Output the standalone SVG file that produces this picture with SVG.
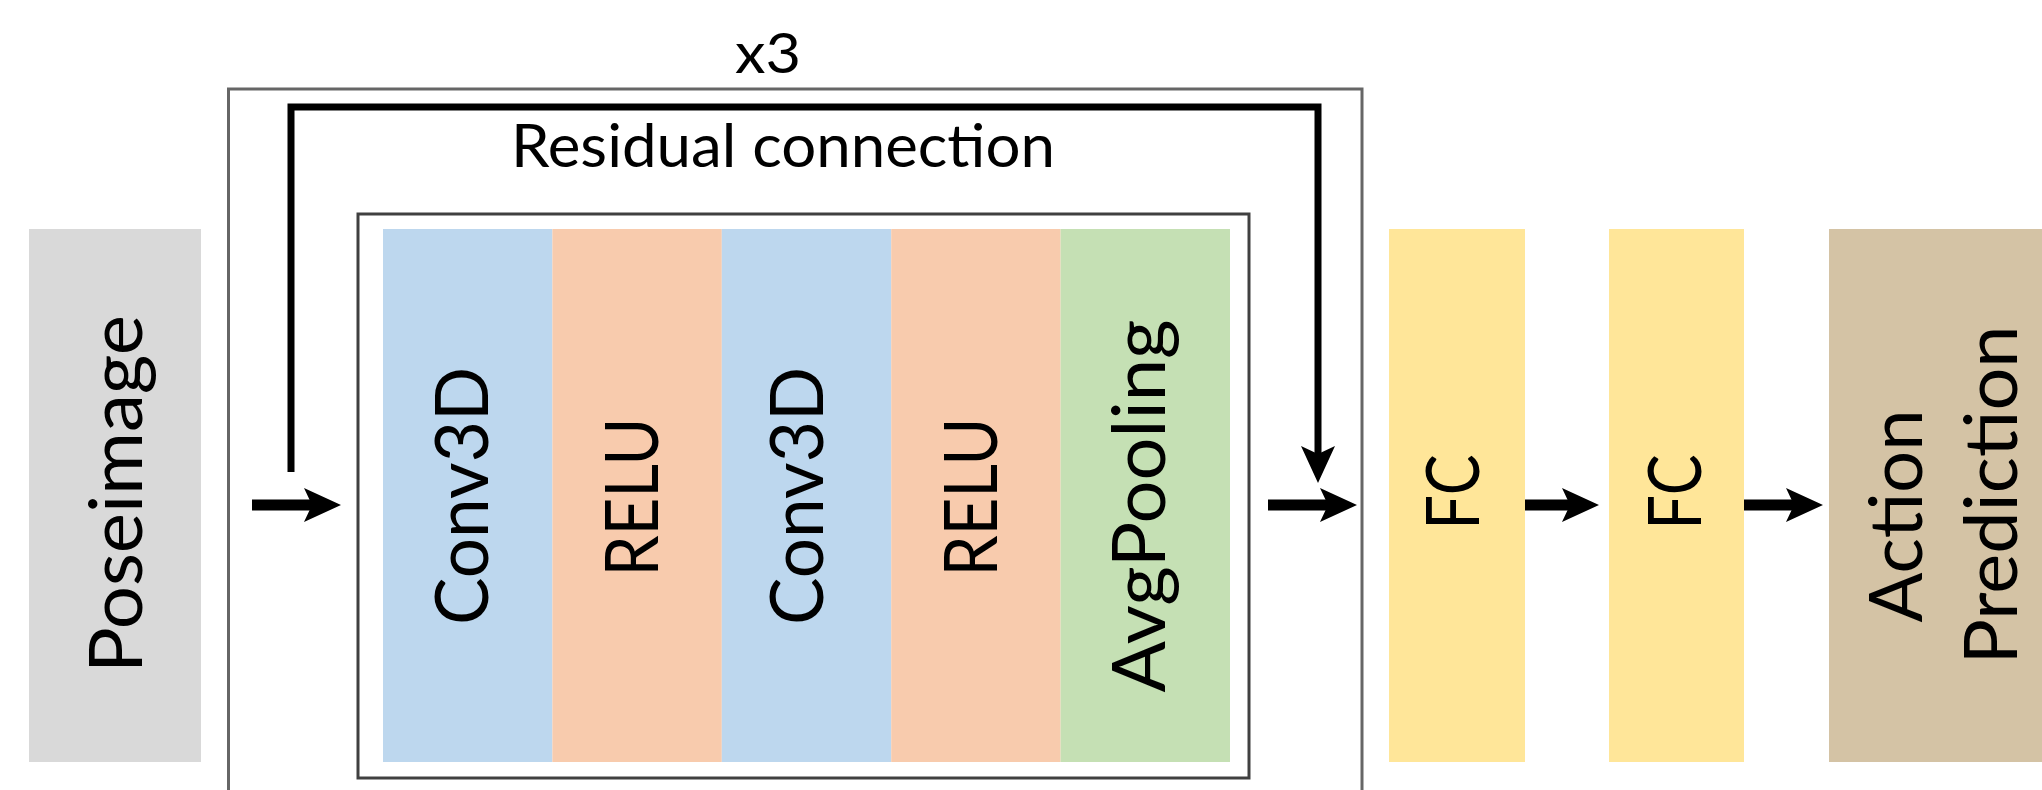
<svg xmlns="http://www.w3.org/2000/svg" width="2042" height="790" viewBox="0 0 2042 790">
  <style>
    .lbl { font-family: Lato, "Open Sans", "Liberation Sans", sans-serif; fill: #000; }
    .rot { font-size: 74px; text-anchor: middle; }
    .hor { text-anchor: middle; }
    .shaft { fill: none; stroke: #000; stroke-width: 11; }
    .res { fill: none; stroke: #000; stroke-width: 7; stroke-linejoin: miter; }
  </style>
  <defs>
    <marker id="ah" markerUnits="userSpaceOnUse" markerWidth="40" markerHeight="36" viewBox="-39 -18 40 36" refX="-29" refY="0" orient="auto" overflow="visible">
      <path d="M0,0 L-37,-17 L-29,0 L-37,17 Z" fill="#000"/>
    </marker>
  </defs>
  <rect width="2042" height="790" fill="#fff"/>

  <g id="repeat-block">
    <rect x="228.5" y="89" width="1133.5" height="720" fill="none" stroke="#666" stroke-width="3"/>
    <text class="lbl hor" x="768" y="73" font-size="56" textLength="66" lengthAdjust="spacingAndGlyphs">x3</text>
  </g>

  <g id="inner-block">
    <rect x="358" y="214" width="891" height="564" fill="none" stroke="#404040" stroke-width="3"/>
  </g>

  <g id="poseimage">
    <rect x="29" y="229" width="172" height="533" fill="#D9D9D9"/>
    <text class="lbl rot" transform="translate(142,494) rotate(-90)" textLength="358" lengthAdjust="spacingAndGlyphs">Poseimage</text>
  </g>

  <g id="conv3d-1">
    <rect x="383" y="229" width="169.4" height="533" fill="#BDD7EE"/>
    <text class="lbl rot" transform="translate(488,496) rotate(-90)" textLength="258" lengthAdjust="spacingAndGlyphs">Conv3D</text>
  </g>
  <g id="relu-1">
    <rect x="552.4" y="229" width="169.4" height="533" fill="#F8CBAD"/>
    <text class="lbl rot" transform="translate(658,497) rotate(-90)" textLength="159" lengthAdjust="spacingAndGlyphs">RELU</text>
  </g>
  <g id="conv3d-2">
    <rect x="721.8" y="229" width="169.4" height="533" fill="#BDD7EE"/>
    <text class="lbl rot" transform="translate(823,496) rotate(-90)" textLength="258" lengthAdjust="spacingAndGlyphs">Conv3D</text>
  </g>
  <g id="relu-2">
    <rect x="891.2" y="229" width="169.4" height="533" fill="#F8CBAD"/>
    <text class="lbl rot" transform="translate(997,497) rotate(-90)" textLength="159" lengthAdjust="spacingAndGlyphs">RELU</text>
  </g>
  <g id="avgpooling">
    <rect x="1060.6" y="229" width="169.4" height="533" fill="#C5E0B4"/>
    <text class="lbl rot" transform="translate(1165,506) rotate(-90)" textLength="373" lengthAdjust="spacingAndGlyphs">AvgPooling</text>
  </g>

  <g id="fc-1">
    <rect x="1389" y="229" width="136" height="533" fill="#FFE699"/>
    <text class="lbl rot" transform="translate(1479,492) rotate(-90)" textLength="75" lengthAdjust="spacingAndGlyphs">FC</text>
  </g>
  <g id="fc-2">
    <rect x="1609" y="229" width="135" height="533" fill="#FFE699"/>
    <text class="lbl rot" transform="translate(1701,492) rotate(-90)" textLength="75" lengthAdjust="spacingAndGlyphs">FC</text>
  </g>
  <g id="action-prediction">
    <rect x="1829" y="229" width="220" height="533" fill="#D4C3A5"/>
    <text class="lbl rot" transform="translate(1922,516) rotate(-90)" textLength="213" lengthAdjust="spacingAndGlyphs">Action</text>
    <text class="lbl rot" transform="translate(2017,495) rotate(-90)" textLength="339" lengthAdjust="spacingAndGlyphs">Prediction</text>
  </g>

  <g id="connectors">
    <path class="res" d="M291,472 V107 H1318 V454" marker-end="url(#ah)"/>
    <text class="lbl hor" x="783" y="167" font-size="60" textLength="544" lengthAdjust="spacingAndGlyphs">Residual connection</text>
    <line class="shaft" x1="252" y1="505" x2="312" y2="505" marker-end="url(#ah)"/>
    <line class="shaft" x1="1268" y1="505" x2="1328" y2="505" marker-end="url(#ah)"/>
    <line class="shaft" x1="1525" y1="505" x2="1570" y2="505" marker-end="url(#ah)"/>
    <line class="shaft" x1="1744" y1="505" x2="1794" y2="505" marker-end="url(#ah)"/>
  </g>
</svg>
